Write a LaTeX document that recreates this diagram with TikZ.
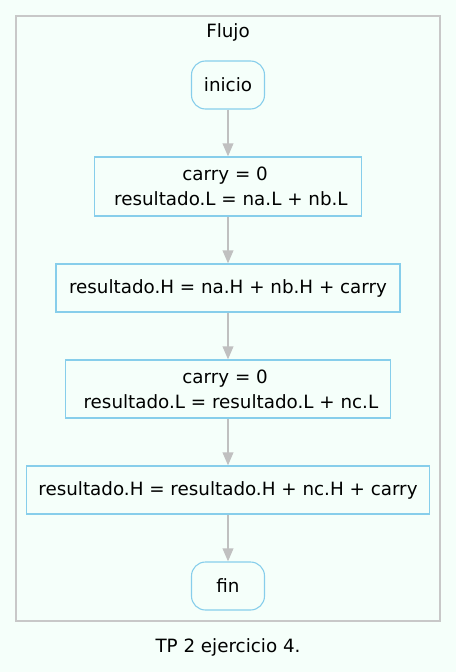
\documentclass[tikz,border=0pt]{standalone}
\usepackage{fontspec}
\setmainfont{DejaVu Sans}
\usetikzlibrary{arrows.meta}
\definecolor{bg}{HTML}{F5FFFA}
\definecolor{nodeb}{HTML}{87CEEB}
\definecolor{clus}{HTML}{C8C8C8}
\definecolor{edgec}{HTML}{C0C0C0}
\begin{document}
\begin{tikzpicture}[x=1pt,y=-1pt,
 every node/.style={font=\fontsize{18.3}{25}\selectfont, inner sep=0pt},
 box/.style={draw=nodeb, line width=1.1pt, fill=bg, align=center},
 term/.style={box, rounded corners=14pt, minimum width=73pt, minimum height=48pt},
 flow/.style={draw=edgec, line width=2pt, -{Triangle[length=13pt,width=10.5pt]}}]
\useasboundingbox[fill=bg] (0,0) rectangle (456,672);
\draw[clus, line width=2pt] (16,16) rectangle (440,621);
\node (titulo) at (228,32) {Flujo};
\node[term] (inicio) at (228,85) {inicio};
\node[box, minimum width=267pt, minimum height=59pt] (b1) at (228,186.5) {carry = 0\hspace*{5.8pt}\\\hspace*{5.8pt}resultado.L = na.L + nb.L};
\node[box, minimum width=344pt, minimum height=48pt] (b2) at (228,288) {resultado.H = na.H + nb.H + carry};
\node[box, minimum width=325pt, minimum height=58pt] (b3) at (228,389) {carry = 0\hspace*{5.8pt}\\\hspace*{5.8pt}resultado.L = resultado.L + nc.L};
\node[box, minimum width=403pt, minimum height=48pt] (b4) at (228,490) {resultado.H = resultado.H + nc.H + carry};
\node[term] (fin) at (228,586) {fin};
\node (caption) at (228,647) {TP 2 ejercicio 4.};
\draw[flow] (inicio) -- (b1);
\draw[flow] (b1) -- (b2);
\draw[flow] (b2) -- (b3);
\draw[flow] (b3) -- (b4);
\draw[flow] (b4) -- (fin);
\end{tikzpicture}
\end{document}
